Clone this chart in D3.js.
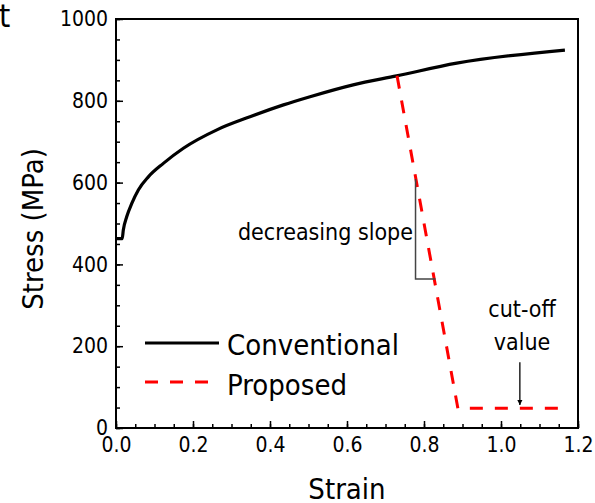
<!DOCTYPE html>
<html>
<head>
<meta charset="utf-8">
<script src="https://cdn.jsdelivr.net/npm/d3@7"></script>
<style>
  body { margin: 0; background: #fff; }
  svg text { font-family: "DejaVu Sans Condensed", "DejaVu Sans", sans-serif; font-stretch: condensed; fill: #000; }
</style>
</head>
<body>
<svg id="svg1" width="595" height="503"></svg>
<script>
// data
const convStrain = [0, 0.016, 0.019, 0.028, 0.041, 0.058, 0.084, 0.123, 0.175, 0.262, 0.348, 0.435, 0.504, 0.616, 0.729, 0.885, 1.166];
const convStress = [463, 463, 484, 517, 549, 582, 614, 647, 684, 729, 761, 790, 810, 839, 861, 892, 924];
const propStrain = [0.73, 0.888, 1.166];
const propStress = [861, 48, 48];
const xTicks = [0, 0.2, 0.4, 0.6, 0.8, 1.0, 1.2];
const yTicks = [0, 200, 400, 600, 800, 1000];
const slopeStrain = [0.778, 0.778, 0.83];
const slopeStress = [609, 364, 364];
const arrowStrain = 1.049;
const arrowStress = [161, 56];

const svg = d3.select('#svg1');

// layout
const margin = {left: 116, right: 578, top: 19, bottom: 428};

const x = d3.scaleLinear().domain([0, 1.2]).range([margin.left, margin.right]);
const y = d3.scaleLinear().domain([0, 1000]).range([margin.bottom, margin.top]);

// minor ticks
svg.append("g")
    .attr("transform", "translate(0," + margin.bottom + ")")
    .call(d3.axisBottom(x).tickValues(d3.range(0, 1.2001, 0.05)).tickSize(-4).tickFormat(""))
    .call(g => g.select(".domain").remove())
    .selectAll("line").attr("stroke-width", 1.5);
svg.append("g")
    .attr("transform", "translate(" + margin.left + ",0)")
    .call(d3.axisLeft(y).tickValues(d3.range(0, 1001, 50)).tickSize(-4).tickFormat(""))
    .call(g => g.select(".domain").remove())
    .selectAll("line").attr("stroke-width", 1.5);

// major ticks + labels
const xAxis = svg.append("g")
    .attr("transform", "translate(0," + margin.bottom + ")")
    .call(d3.axisBottom(x).tickValues(xTicks).tickSize(-7).tickPadding(9).tickFormat(d3.format(".1f")));
xAxis.select(".domain").remove();
xAxis.selectAll("line").attr("stroke-width", 1.5);
xAxis.selectAll("text").attr("font-size", 21);
xAxis.attr("font-family", null).attr("font-size", null);

const yAxis = svg.append("g")
    .attr("transform", "translate(" + margin.left + ",0)")
    .call(d3.axisLeft(y).tickValues(yTicks).tickSize(-7).tickPadding(8).tickFormat(d3.format("d")));
yAxis.select(".domain").remove();
yAxis.selectAll("line").attr("stroke-width", 1.5);
yAxis.selectAll("text").attr("font-size", 21);
yAxis.attr("font-family", null).attr("font-size", null);

// frame
svg.append("rect")
    .attr("x", margin.left).attr("y", margin.top)
    .attr("width", margin.right - margin.left).attr("height", margin.bottom - margin.top)
    .attr("fill", "none").attr("stroke", "#000").attr("stroke-width", 2);

// axis titles
svg.append("text")
    .attr("x", (margin.left + margin.right) / 2).attr("y", 499)
    .attr("text-anchor", "middle").attr("font-size", 29)
    .text("Strain");
svg.append("text")
    .attr("transform", "translate(43,229)rotate(-90)")
    .attr("text-anchor", "middle").attr("font-size", 29)
    .text("Stress (MPa)");

// panel letter (cut off at the edge)
svg.append("text")
    .attr("x", -1).attr("y", 27)
    .attr("font-size", 32)
    .style("font-stretch", "normal")
    .text("t");

// curves
const line = d3.line().x(d => x(d[0])).y(d => y(d[1]));
svg.append("path")
    .datum(d3.zip(convStrain, convStress))
    .attr("d", d3.line().x(d => x(d[0])).y(d => y(d[1])).curve(d3.curveMonotoneX))
    .attr("fill", "none").attr("stroke", "#000").attr("stroke-width", 3.2);

svg.append("path")
    .datum(d3.zip(propStrain, propStress))
    .attr("d", line)
    .attr("fill", "none").attr("stroke", "#ff0000").attr("stroke-width", 3)
    .attr("stroke-dasharray", "13,12");

// slope triangle
svg.append("path")
    .datum(d3.zip(slopeStrain, slopeStress))
    .attr("d", line)
    .attr("fill", "none").attr("stroke", "#444").attr("stroke-width", 1.5);
svg.append("text")
    .attr("x", 413).attr("y", 240)
    .attr("text-anchor", "end").attr("font-size", 23)
    .text("decreasing slope");

// cut-off annotation
svg.append("defs").append("marker")
    .attr("id", "arr").attr("viewBox", "0 0 10 10")
    .attr("refX", 10).attr("refY", 5)
    .attr("markerWidth", 4).attr("markerHeight", 5)
    .attr("markerUnits", "strokeWidth")
    .attr("orient", "auto")
    .append("path").attr("d", "M0,0L10,5L0,10z").attr("fill", "#000");
svg.append("line")
    .attr("x1", x(arrowStrain)).attr("x2", x(arrowStrain))
    .attr("y1", y(arrowStress[0])).attr("y2", y(arrowStress[1]))
    .attr("stroke", "#000").attr("stroke-width", 1.3)
    .attr("marker-end", "url(#arr)");
svg.append("text")
    .attr("x", 522).attr("y", 317)
    .attr("text-anchor", "middle").attr("font-size", 23)
    .text("cut-off");
svg.append("text")
    .attr("x", 522).attr("y", 350)
    .attr("text-anchor", "middle").attr("font-size", 23)
    .text("value");

// legend
const legend = svg.append("g");
legend.append("line")
    .attr("x1", 145).attr("x2", 219).attr("y1", 343).attr("y2", 343)
    .attr("stroke", "#000").attr("stroke-width", 3.2);
legend.append("text")
    .attr("x", 227).attr("y", 355).attr("font-size", 29)
    .text("Conventional");
legend.append("line")
    .attr("x1", 145).attr("x2", 219).attr("y1", 382).attr("y2", 382)
    .attr("stroke", "#ff0000").attr("stroke-width", 3)
    .attr("stroke-dasharray", "13,12");
legend.append("text")
    .attr("x", 227).attr("y", 395).attr("font-size", 29)
    .text("Proposed");
</script>
</body>
</html>
